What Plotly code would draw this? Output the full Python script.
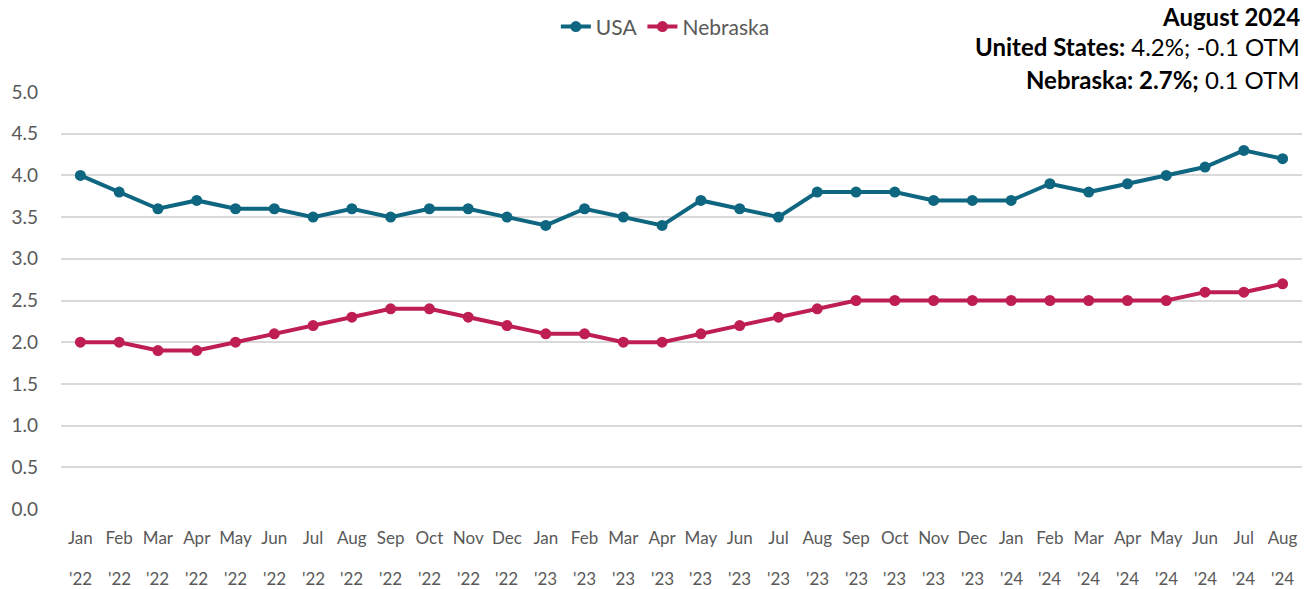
import plotly.graph_objects as go

months = ["Jan", "Feb", "Mar", "Apr", "May", "Jun", "Jul", "Aug", "Sep", "Oct", "Nov", "Dec",
          "Jan", "Feb", "Mar", "Apr", "May", "Jun", "Jul", "Aug", "Sep", "Oct", "Nov", "Dec",
          "Jan", "Feb", "Mar", "Apr", "May", "Jun", "Jul", "Aug"]
years = ["'22"] * 12 + ["'23"] * 12 + ["'24"] * 8
usa = [4.0, 3.8, 3.6, 3.7, 3.6, 3.6, 3.5, 3.6, 3.5, 3.6, 3.6, 3.5,
       3.4, 3.6, 3.5, 3.4, 3.7, 3.6, 3.5, 3.8, 3.8, 3.8, 3.7, 3.7,
       3.7, 3.9, 3.8, 3.9, 4.0, 4.1, 4.3, 4.2]
nebraska = [2.0, 2.0, 1.9, 1.9, 2.0, 2.1, 2.2, 2.3, 2.4, 2.4, 2.3, 2.2,
            2.1, 2.1, 2.0, 2.0, 2.1, 2.2, 2.3, 2.4, 2.5, 2.5, 2.5, 2.5,
            2.5, 2.5, 2.5, 2.5, 2.5, 2.6, 2.6, 2.7]
y_ticks = [0.0, 0.5, 1.0, 1.5, 2.0, 2.5, 3.0, 3.5, 4.0, 4.5, 5.0]

xi = list(range(len(months)))

FONT = "Lato, 'Open Sans', sans-serif"
USA_C = "#0E6680"
NE_C = "#BE1E52"
GREY = "#595959"

fig = go.Figure()
fig.add_trace(go.Scatter(x=xi, y=usa, name="USA", mode="lines+markers",
                         line=dict(color=USA_C, width=4),
                         marker=dict(color=USA_C, size=11)))
fig.add_trace(go.Scatter(x=xi, y=nebraska, name="Nebraska", mode="lines+markers",
                         line=dict(color=NE_C, width=4),
                         marker=dict(color=NE_C, size=11)))

fig.update_layout(
    width=1314, height=589,
    margin=dict(l=61, r=12, t=92, b=80, autoexpand=False),
    paper_bgcolor="white", plot_bgcolor="white",
    font=dict(family=FONT, color=GREY, size=17),
    showlegend=True,
    legend=dict(orientation="h", x=0.487, xanchor="center", y=1.156, yanchor="middle",
                font=dict(size=21, color=GREY)),
    xaxis=dict(tickmode="array", tickvals=xi, ticktext=months, range=[-0.5, len(months) - 0.5],
               showgrid=False, zeroline=False, showline=False, ticks="",
               ticklabelstandoff=17,
               tickfont=dict(size=17, color=GREY), tickangle=0),
    yaxis=dict(range=[0, 5.0], tickvals=y_ticks, ticktext=[f"{v:.1f}" for v in y_ticks],
               showgrid=True, gridcolor="#D9D9D9", gridwidth=1.5, zeroline=False,
               showline=False, ticks="", ticklabelstandoff=22,
               tickfont=dict(size=19, color=GREY)),
)

for i, yr in zip(xi, years):
    fig.add_annotation(xref="x", yref="paper", x=i, y=0, yshift=-69, yanchor="middle",
                       text=yr, showarrow=False,
                       font=dict(size=17, color=GREY, family=FONT))

fig.add_annotation(xref="paper", yref="paper", x=1.0, xanchor="right", y=1.18, yanchor="middle",
                   text="<b>August 2024</b>", showarrow=False,
                   font=dict(size=24, color="black", family=FONT))
fig.add_annotation(xref="paper", yref="paper", x=1.0, xanchor="right", y=1.108, yanchor="middle",
                   text="<b>United States:</b> 4.2%; -0.1 OTM", showarrow=False,
                   font=dict(size=24, color="black", family=FONT))
fig.add_annotation(xref="paper", yref="paper", x=1.0, xanchor="right", y=1.031, yanchor="middle",
                   text="<b>Nebraska: 2.7%;</b> 0.1 OTM", showarrow=False,
                   font=dict(size=24, color="black", family=FONT))

fig.write_html("out.html", config={"displayModeBar": False},
               post_script="document.body.style.margin='0';document.body.style.padding='0';")
